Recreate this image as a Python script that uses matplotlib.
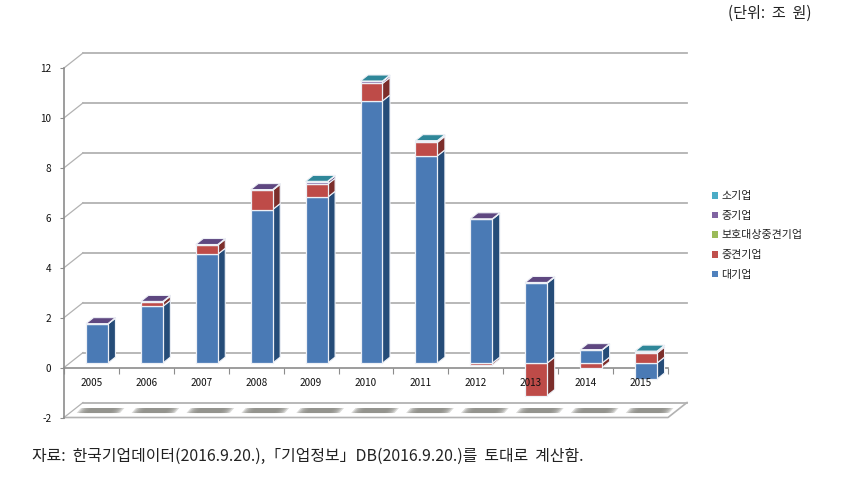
import matplotlib
matplotlib.use("Agg")
import matplotlib.pyplot as plt
from matplotlib.patches import Patch

plt.rcParams['font.family'] = ['Noto Sans CJK KR', 'DejaVu Sans']
plt.rcParams['axes.unicode_minus'] = False

years = ['2005', '2006', '2007', '2008', '2009', '2010', '2011', '2012', '2013', '2014', '2015']

# 단위: 조 원
large = [1.56, 2.27, 4.36, 6.15, 6.64, 10.50, 8.30, 5.76, 3.20, 0.52, -0.64]
middle = [0.00, 0.17, 0.36, 0.77, 0.52, 0.70, 0.54, -0.08, -1.30, -0.18, 0.40]
protected = [0.00, 0.00, 0.00, 0.00, 0.00, 0.00, 0.00, 0.00, 0.00, 0.00, 0.00]
medium = [0.02, 0.03, 0.03, 0.03, 0.10, 0.08, 0.05, 0.02, 0.03, 0.02, 0.06]
small = [0.00, 0.00, 0.00, 0.00, 0.02, 0.02, 0.02, 0.00, 0.00, 0.00, 0.02]

series = [large, middle, protected, medium, small]
names = ['대기업', '중견기업', '보호대상중견기업', '중기업', '소기업']
front_colors = ['#4A7AB5', '#BE4B48', '#9BBB59', '#8064A2', '#4BACC6']
side_colors = ['#254C78', '#7C2E2B', '#5E7530', '#4F3A70', '#2B7488']
top_colors = ['#2F5F95', '#9A3B38', '#7A9440', '#5E4780', '#2F8799']
edge = '#EDF0F6'

# 3차원 효과용 오프셋 (데이터 단위)
wall_dx, wall_dy = 0.346, 0.60
bar_dx, bar_dy = 0.137, 0.24
bar_x0, bar_y0 = -0.10, 0.18
bar_w = 0.40
grid_color = '#B2B2B2'

fig = plt.figure(figsize=(8.45, 4.8), dpi=100)
ax = fig.add_axes([64 / 845, 1 - 417.5 / 480, 604 / 845, 349.5 / 480])
ax.set_xlim(-0.5, 10.5)
ax.set_ylim(-2, 12)
ax.patch.set_visible(False)

# 벽면 눈금선
for v in range(-2, 14, 2):
    ax.plot([-0.5, -0.5 + wall_dx], [v, v + wall_dy], color=grid_color, lw=0.9, clip_on=False, zorder=1)
    ax.plot([-0.5 + wall_dx, 10.5 + wall_dx], [v + wall_dy, v + wall_dy], color=grid_color, lw=1.3,
            clip_on=False, zorder=1)

# 바닥
ax.plot([-0.5, 10.5, 10.5 + wall_dx], [-2, -2, -2 + wall_dy], color=grid_color, lw=1.2, clip_on=False, zorder=1)

# 바닥 그림자 (겹쳐 그려서 양 끝을 흐리게)
for i in range(len(years)):
    for grow in [0.0, 0.03, 0.06, 0.09, 0.12, 0.15, 0.18]:
        x0 = i - 0.27 + grow
        x1 = i + 0.52 - grow
        ax.fill([x0, x1, x1 + 0.08, x0 + 0.08], [-1.82, -1.82, -1.62, -1.62], color='#8E8E88', alpha=0.32,
                lw=0, clip_on=False, zorder=1.5)


def draw_segment(x, low, high, front, side, top, has_top, z):
    xr = x + bar_w
    ax.fill([xr, xr + bar_dx, xr + bar_dx, xr],
            [low, low + bar_dy, high + bar_dy, high],
            facecolor=side, edgecolor=edge, lw=0.8, clip_on=False, zorder=z)
    ax.fill([x, xr, xr, x], [low, low, high, high],
            facecolor=front, edgecolor=edge, lw=0.9, clip_on=False, zorder=z + 0.1)
    if has_top:
        ax.fill([x, xr, xr + bar_dx, x + bar_dx],
                [high, high, high + bar_dy, high + bar_dy],
                facecolor=top, edgecolor=edge, lw=0.8, clip_on=False, zorder=z + 0.2)


# 막대: 양수는 위로, 음수는 아래로 쌓음
for i in range(len(years)):
    x = i + bar_x0
    pos = bar_y0
    neg = bar_y0
    last = max(k for k in range(len(series)) if series[k][i] > 0)
    z = 3 + i * 0.01
    for k, values in enumerate(series):
        val = values[i]
        if val < 0:
            draw_segment(x, neg + val, neg, front_colors[k], side_colors[k], top_colors[k], False, z)
            neg += val
    for k, values in enumerate(series):
        val = values[i]
        if val > 0:
            draw_segment(x, pos, pos + val, front_colors[k], side_colors[k], top_colors[k], k == last, z + 0.3 + k * 0.01)
            pos += val

# 축
for name in ['top', 'right']:
    ax.spines[name].set_visible(False)
ax.spines['bottom'].set_position(('data', 0))
for name in ['left', 'bottom']:
    ax.spines[name].set_color('#8C8C8C')
    ax.spines[name].set_linewidth(1.2)
    ax.spines[name].set_zorder(2)

ax.set_yticks(range(-2, 14, 2))
ax.tick_params(axis='y', length=3, width=0.8, color='#8C8C8C', pad=6, labelsize=7.2, labelcolor='#111111')
ax.set_xticks([i - 0.5 for i in range(len(years) + 1)])
ax.set_xticklabels([])
ax.set_xticks(range(len(years)), years, minor=True)
ax.tick_params(axis='x', which='major', length=4, width=0.8, color='#8C8C8C')
ax.tick_params(axis='x', which='minor', length=0, pad=7.5, labelsize=7.2, labelcolor='#111111')
ax.xaxis.set_zorder(6)

# 범례
handles = [Patch(facecolor=c, lw=0) for c in ['#4BACC6', '#8064A2', '#9BBB59', '#C0504D', '#4F81BD']]
fig.legend(handles, names[::-1], loc='center left', bbox_to_anchor=(709 / 845, 1 - 235.5 / 480),
           frameon=False, fontsize=7.9, handlelength=0.55, handleheight=0.55, handletextpad=0.3,
           labelspacing=0.88, labelcolor='#222222', borderpad=0.3, borderaxespad=0)

fig.text(812 / 845, 1 - 13 / 480, '(단위:  조  원)', ha='right', va='center', fontsize=10.9, color='#222222')
fig.text(32 / 845, 1 - 456.5 / 480, '자료:  한국기업데이터(2016.9.20.),「기업정보」DB(2016.9.20.)를  토대로  계산함.',
         ha='left', va='center', fontsize=11.45, color='#222222')

fig.savefig('out.png', dpi=100)
